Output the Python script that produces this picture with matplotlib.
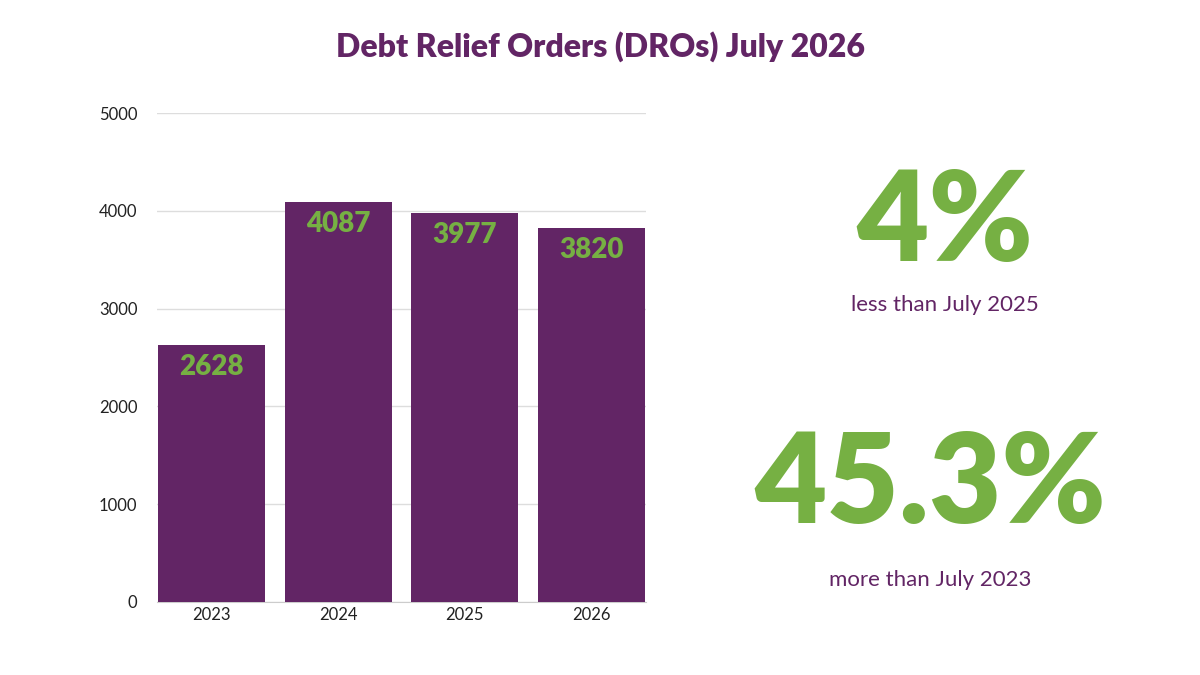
import matplotlib
matplotlib.use("Agg")
import matplotlib.pyplot as plt

years = ["2023", "2024", "2025", "2026"]
values = [2628, 4087, 3977, 3820]
stat1 = "4%"
stat1_text = "less than July 2025"
stat2 = "45.3%"
stat2_text = "more than July 2023"

purple = "#622565"
green = "#76B043"
plt.rcParams['font.family'] = ['Lato', 'DejaVu Sans']

fig = plt.figure(figsize=(12, 6.75), dpi=100)
ax = fig.add_axes([157/1200, 73/675, 489/1200, 489/675])
x = range(len(years))
ax.bar(x, values, width=0.843, color=purple, zorder=3)
for i, v in zip(x, values):
    ax.text(i, v - 90, str(v), ha="center", va="top", color=green,
            fontsize=20, fontweight="heavy", zorder=4)
ax.set_xlim(-0.43, 3.43)
ax.set_ylim(0, 5000)
ax.set_yticks(range(0, 5001, 1000))
ax.set_xticks(list(x))
ax.set_xticklabels(years)
ax.tick_params(length=0, labelsize=12, colors="#222222")
ax.tick_params(axis="y", pad=14)
ax.grid(axis="y", color="#dddddd", lw=1, zorder=0)
for s in ax.spines.values():
    s.set_visible(False)
ax.spines["bottom"].set_visible(True)
ax.spines["bottom"].set_color("#cccccc")

fig.text(0.5, 1 - 47/675, "Debt Relief Orders (DROs) July 2026", ha="center", va="center",
         color=purple, fontsize=23, fontweight="heavy")
fig.text(945/1200, 1 - 224/675, stat1, ha="center", va="center", color=green,
         fontsize=90, fontweight="heavy")
fig.text(945/1200, 1 - 305/675, stat1_text, ha="center", va="center", color=purple, fontsize=16)
fig.text(930/1200, 1 - 487/675, stat2, ha="center", va="center", color=green,
         fontsize=90, fontweight="heavy")
fig.text(930/1200, 1 - 580/675, stat2_text, ha="center", va="center", color=purple, fontsize=16)

fig.savefig("out.png", dpi=100)
